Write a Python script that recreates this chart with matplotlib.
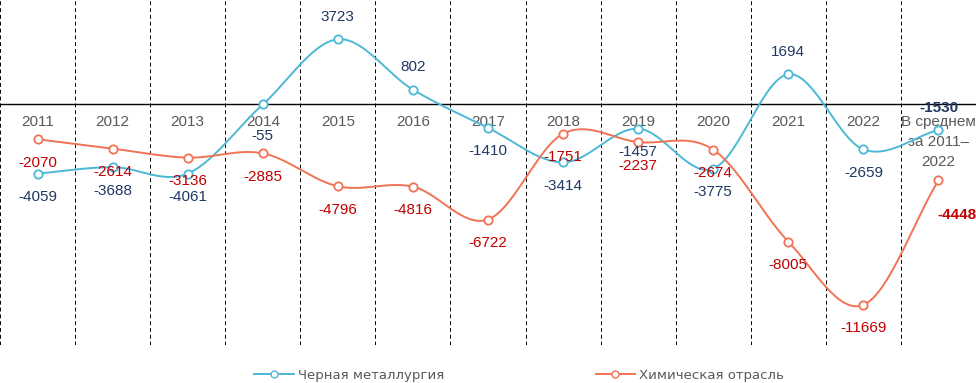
import numpy as np
import matplotlib.pyplot as plt
from matplotlib.lines import Line2D

categories = ["2011", "2012", "2013", "2014", "2015", "2016", "2017", "2018",
              "2019", "2020", "2021", "2022", "В среднем\nза 2011–\n2022"]
metal = [-4059, -3688, -4061, -55, 3723, 802, -1410, -3414, -1457, -3775, 1694, -2659, -1530]
chem = [-2070, -2614, -3136, -2885, -4796, -4816, -6722, -1751, -2237, -2674, -8005, -11669, -4448]

# label above (1) or below (-1) the point
metal_pos = [-1, -1, -1, -1, 1, 1, -1, -1, -1, -1, 1, -1, 1]

blue = "#4DB8D6"
red = "#F07355"
blue_txt = "#1F3864"
red_txt = "#C00000"
gray = "#595959"


def smooth(x, y, n=30):
    # Catmull-Rom curve through the points (like Excel smoothed line)
    x = np.asarray(x, float)
    y = np.asarray(y, float)
    px = np.concatenate([[2 * x[0] - x[1]], x, [2 * x[-1] - x[-2]]])
    py = np.concatenate([[2 * y[0] - y[1]], y, [2 * y[-1] - y[-2]]])
    xs, ys = [], []
    t = np.linspace(0, 1, n)
    for i in range(1, len(px) - 2):
        for p, out in ((px, xs), (py, ys)):
            p0, p1, p2, p3 = p[i - 1], p[i], p[i + 1], p[i + 2]
            out.extend(0.5 * ((2 * p1) + (-p0 + p2) * t +
                              (2 * p0 - 5 * p1 + 4 * p2 - p3) * t ** 2 +
                              (-p0 + 3 * p1 - 3 * p2 + p3) * t ** 3))
    return xs, ys


fig = plt.figure(figsize=(9.76, 3.83), dpi=100)
ax = fig.add_axes([0, 0.099, 1, 0.901])
ax.set_xlim(-0.5, 12.5)
ax.set_ylim(-14000, 6000)
ax.axis("off")

x = np.arange(len(categories))
for b in np.arange(-0.5, 13, 1):
    ax.axvline(b, color="black", lw=0.7, ls=(0, (4, 3)), zorder=1)
ax.axhline(0, color="black", lw=1, zorder=2)

for i, c in enumerate(categories):
    ax.annotate(c, (i, 0), xytext=(0, -8), textcoords="offset points",
                ha="center", va="top", fontsize=11, color=gray,
                family="Liberation Sans", linespacing=1.55, zorder=2)

for vals, col in ((metal, blue), (chem, red)):
    sx, sy = smooth(x, vals)
    ax.plot(sx, sy, color=col, lw=1.4, zorder=3)
    ax.plot(x, vals, "o", ms=6, mfc="white", mec=col, mew=1.3, zorder=4)

for i, (v, p) in enumerate(zip(metal, metal_pos)):
    bold = i == 12
    dy = 16 if p > 0 else -17
    if i == 3:
        dy = -23
    if bold:
        dy = 16
    ax.annotate(str(v), (i, v), xytext=(0, dy),
                textcoords="offset points", ha="center",
                va="center", fontsize=11, color=blue_txt,
                fontweight="bold" if bold else "normal",
                family="Liberation Sans", zorder=5)
for i, v in enumerate(chem):
    bold = i == 12
    dx = 13 if bold else 0
    dy = -25 if bold else -17
    ax.annotate(str(v), (i, v), xytext=(dx, dy),
                textcoords="offset points", ha="center",
                va="center", fontsize=11, color=red_txt,
                fontweight="bold" if bold else "normal",
                family="Liberation Sans", zorder=5)

handles = [Line2D([], [], color=blue, lw=1.4, marker="o", ms=5, mfc="white", mec=blue),
           Line2D([], [], color=red, lw=1.4, marker="o", ms=5, mfc="white", mec=red)]
fig.legend(handles, ["Черная металлургия", "Химическая отрасль"], loc="center",
           bbox_to_anchor=(519 / 976, 1 - 375 / 383), ncol=2, frameon=False,
           fontsize=9.5, columnspacing=11.5, handlelength=3, handletextpad=0.3,
           labelcolor=gray)

fig.savefig("out.png", dpi=100)
